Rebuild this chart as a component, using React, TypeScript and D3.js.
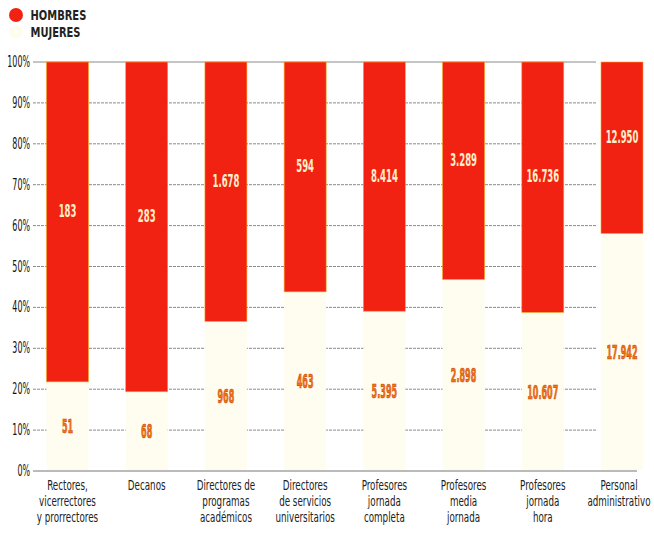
import React, { useEffect, useRef } from "react";
import * as d3 from "d3";

const categories: string[][] = [
  ["Rectores,", "vicerrectores", "y prorrectores"],
  ["Decanos"],
  ["Directores de", "programas", "académicos"],
  ["Directores", "de servicios", "universitarios"],
  ["Profesores", "jornada", "completa"],
  ["Profesores", "media", "jornada"],
  ["Profesores", "jornada", "hora"],
  ["Personal", "administrativo"],
];
const hombres = [183, 283, 1678, 594, 8414, 3289, 16736, 12950];
const mujeres = [51, 68, 968, 463, 5395, 2898, 10607, 17942];
const yTicks = [0, 10, 20, 30, 40, 50, 60, 70, 80, 90, 100];
const seriesNames = ["HOMBRES", "MUJERES"];

const RED = "#f22212";
const CREAM = "#fffdf0";
const FONT = "'DejaVu Sans Condensed', 'Liberation Sans Narrow', 'Roboto', sans-serif";

// condensed look: squeeze glyphs horizontally
const squeeze = (px: number, py: number, sx: number, sy: number) =>
  `translate(${px},${py}) scale(${sx},${sy})`;

const App = () => {
  const chartRef = useRef<HTMLDivElement>(null);

  useEffect(() => {
    const width = 654;
    const height = 534;

    d3.select(chartRef.current).select("svg").remove();

    const svg = d3
      .select(chartRef.current)
      .append("svg")
      .attr("width", width)
      .attr("height", height)
      .style("position", "absolute")
      .style("left", "0px")
      .style("top", "0px")
      .style("background", "#fff");

    const esFormat = d3.formatLocale({
      decimal: ",",
      thousands: ".",
      grouping: [3],
      currency: ["", "€"],
    }).format(",d");

    const data = categories.map((c, i) => {
      const total = hombres[i] + mujeres[i];
      return { idx: i, lines: c, h: hombres[i], m: mujeres[i], mPct: (mujeres[i] / total) * 100 };
    });

    const x = d3
      .scaleBand<number>()
      .domain(data.map((d) => d.idx))
      .range([46.5, 643])
      .paddingInner(0.47)
      .paddingOuter(0);

    const y = d3.scaleLinear().domain([0, 100]).range([471, 62]);
    const cx = (i: number) => x(i)! + x.bandwidth() / 2;

    // gridlines
    svg
      .append("g")
      .selectAll("line")
      .data(yTicks.filter((t) => t > 0))
      .enter()
      .append("line")
      .attr("x1", 33)
      .attr("x2", 596)
      .attr("y1", (d) => y(d))
      .attr("y2", (d) => y(d))
      .attr("stroke", "#8a8a8a")
      .attr("stroke-width", 1)
      .attr("stroke-dasharray", (d) => (d === 100 ? null : "3,1"));

    // baseline
    svg
      .append("line")
      .attr("x1", 33)
      .attr("x2", 637)
      .attr("y1", y(0))
      .attr("y2", y(0))
      .attr("stroke", "#777")
      .attr("stroke-width", 1);

    // tick labels
    svg
      .append("g")
      .selectAll("text")
      .data(yTicks)
      .enter()
      .append("text")
      .attr("transform", (d) => squeeze(30, y(d) + 5, 0.68, 1.15))
      .attr("text-anchor", "end")
      .style("font-family", FONT)
      .style("font-size", "13px")
      .style("fill", "#111")
      .text((d) => `${d}%`);

    const bars = svg.append("g");

    // mujeres (bottom)
    bars
      .selectAll(".muj")
      .data(data)
      .enter()
      .append("rect")
      .attr("x", (d) => x(d.idx)!)
      .attr("y", (d) => y(d.mPct))
      .attr("width", x.bandwidth())
      .attr("height", (d) => y(0) - y(d.mPct) - 1)
      .attr("fill", CREAM);

    // hombres (top)
    bars
      .selectAll(".hom")
      .data(data)
      .enter()
      .append("rect")
      .attr("x", (d) => x(d.idx)!)
      .attr("y", y(100))
      .attr("width", x.bandwidth())
      .attr("height", (d) => y(d.mPct) - y(100))
      .attr("fill", RED)
      .attr("stroke", "#f7a21a")
      .attr("stroke-width", 0.6);

    // value labels
    svg
      .append("g")
      .selectAll("text")
      .data(data)
      .enter()
      .append("text")
      .attr("transform", (d) => squeeze(cx(d.idx), y((d.mPct + 100) / 2) - 5, 0.63, 1.15))
      .attr("text-anchor", "middle")
      .style("font-family", FONT)
      .style("font-size", "15px")
      .style("font-weight", "bold")
      .style("fill", "#fff0cc")
      .text((d) => esFormat(d.h));

    svg
      .append("g")
      .selectAll("text")
      .data(data)
      .enter()
      .append("text")
      .attr("transform", (d) => squeeze(cx(d.idx), y(d.mPct / 2) + 7, 0.56, 1.22))
      .attr("text-anchor", "middle")
      .style("font-family", FONT)
      .style("font-size", "16px")
      .style("font-weight", "bold")
      .style("fill", "#f27410")
      .style("stroke", "#c23e08")
      .style("stroke-width", 0.5)
      .text((d) => esFormat(d.m));

    // category labels (kept inside the right edge)
    const cat = svg
      .append("g")
      .selectAll("text")
      .data(data)
      .enter()
      .append("text")
      .attr("transform", (d) => squeeze(Math.min(cx(d.idx), 619), 490, 0.72, 1.05))
      .attr("text-anchor", "middle")
      .style("font-family", FONT)
      .style("font-size", "13.5px")
      .style("fill", "#222");
    cat
      .selectAll("tspan")
      .data((d) => d.lines)
      .enter()
      .append("tspan")
      .attr("x", 0)
      .attr("y", (_, i) => (i * 16) / 1.05)
      .text((d) => d);

    // legend
    const legend = svg.append("g");
    legend
      .selectAll("circle")
      .data(seriesNames)
      .enter()
      .append("circle")
      .attr("cx", 16)
      .attr("cy", (_, i) => 15 + i * 17)
      .attr("r", 7)
      .attr("fill", (_, i) => (i === 0 ? RED : CREAM));
    legend
      .selectAll("text")
      .data(seriesNames)
      .enter()
      .append("text")
      .attr("transform", (_, i) => squeeze(30.5, 20 + i * 17, 0.85, 1.1))
      .style("font-family", FONT)
      .style("font-size", "13px")
      .style("font-weight", "600")
      .style("fill", "#222")
      .text((d) => d);
  }, []);

  return <div ref={chartRef}></div>;
};

export default App;
